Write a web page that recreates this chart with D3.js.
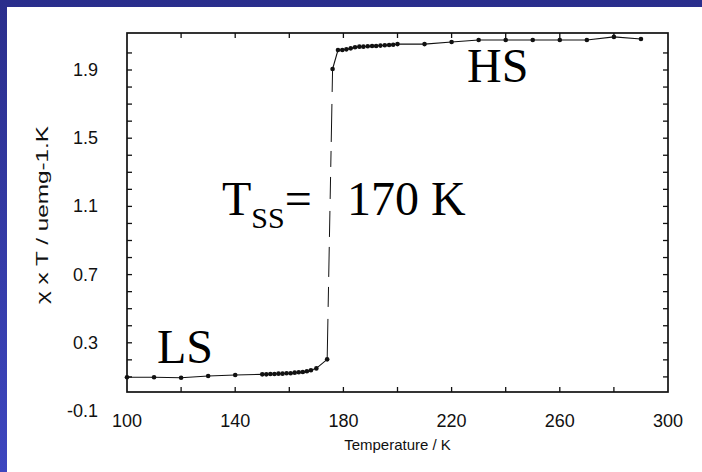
<!DOCTYPE html>
<html>
<head>
<meta charset="utf-8">
<script src="https://cdn.jsdelivr.net/npm/d3@7"></script>
<style>
  html, body { margin: 0; padding: 0; background: #fff; }
  svg { display: block; }
</style>
</head>
<body>
<div id="chart"></div>
<script>
// Low-spin branch: temperature (K) and χT
const lsTemp  = [100, 110, 120, 130, 140, 150, 151.5, 153, 154.5, 156, 157.5, 159, 160.5, 162, 163.5, 165, 166.5, 168, 170, 174];
const lsValue = [0.098, 0.098, 0.095, 0.105, 0.111, 0.115, 0.115, 0.117, 0.117, 0.119, 0.119, 0.121, 0.121, 0.125, 0.127, 0.129, 0.133, 0.139, 0.150, 0.203];

// High-spin branch: temperature (K) and χT
const hsTemp  = [176, 178, 179.6, 181.1, 182.7, 184.3, 185.9, 187.4, 189, 190.6, 192.1, 193.7, 195.3, 196.9, 198.4, 200, 210, 220, 230, 240, 250, 260, 270, 280, 290];
const hsValue = [1.906, 2.017, 2.017, 2.021, 2.027, 2.033, 2.037, 2.037, 2.039, 2.041, 2.041, 2.043, 2.045, 2.047, 2.048, 2.052, 2.052, 2.064, 2.076, 2.076, 2.076, 2.076, 2.076, 2.094, 2.082];

// Axis labels
const xTickLabels = [100, 140, 180, 220, 260, 300];
const yTickLabels = [1.9, 1.5, 1.1, 0.7, 0.3, -0.1];
const xMinorTicks = d3.range(120, 300, 20);
const yMinorTicks = d3.range(0.1, 2.1, 0.1);

const W = 702, H = 472;
const frame = { left: 127, right: 668, top: 33, bottom: 392 };

const svg = d3.select("#chart").append("svg")
  .attr("width", W).attr("height", H);

// Blue slide background with white panel
const defs = svg.append("defs");
const grad = defs.append("linearGradient").attr("id", "bg")
  .attr("x1", 0).attr("y1", 0).attr("x2", 0).attr("y2", 1);
grad.append("stop").attr("offset", "0%").attr("stop-color", "#2a2e8c");
grad.append("stop").attr("offset", "100%").attr("stop-color", "#3d46bf");
svg.append("rect").attr("width", W).attr("height", H).attr("fill", "url(#bg)");
svg.append("rect").attr("x", 7).attr("y", 7).attr("width", W - 7).attr("height", H - 7).attr("fill", "#fff");

const x = d3.scaleLinear().domain([100, 300]).range([frame.left, frame.right]);
// tick labels sit at -0.1 (y=411) and 1.9 (y=70)
const y = d3.scaleLinear().domain([-0.1, 1.9]).range([411, 70]);

// Frame
svg.append("rect")
  .attr("x", frame.left).attr("y", frame.top)
  .attr("width", frame.right - frame.left).attr("height", frame.bottom - frame.top)
  .attr("fill", "none").attr("stroke", "#111").attr("stroke-width", 1.7);

// Inward ticks on all four sides
const tickG = svg.append("g").attr("stroke", "#111").attr("stroke-width", 1.3);
xMinorTicks.forEach(t => {
  tickG.append("line").attr("x1", x(t)).attr("x2", x(t)).attr("y1", frame.bottom).attr("y2", frame.bottom - 5);
  tickG.append("line").attr("x1", x(t)).attr("x2", x(t)).attr("y1", frame.top).attr("y2", frame.top + 5);
});
yMinorTicks.forEach(v => {
  const py = y(v);
  if (py <= frame.top + 2 || py >= frame.bottom - 2) return;
  tickG.append("line").attr("x1", frame.left).attr("x2", frame.left + 5).attr("y1", py).attr("y2", py);
  tickG.append("line").attr("x1", frame.right).attr("x2", frame.right - 5).attr("y1", py).attr("y2", py);
});

// Tick labels
const labelFont = "'Liberation Sans', Arial, Helvetica, sans-serif";
svg.append("g").selectAll("text").data(xTickLabels).join("text")
  .attr("x", d => x(d)).attr("y", 427)
  .attr("text-anchor", "middle")
  .attr("font-family", labelFont).attr("font-size", 18).attr("fill", "#111")
  .text(d => d);

svg.append("g").selectAll("text").data(yTickLabels).join("text")
  .attr("x", 98).attr("y", d => y(d) + 6)
  .attr("text-anchor", "end")
  .attr("font-family", labelFont).attr("font-size", 18).attr("fill", "#111")
  .text(d => d.toFixed(1));

// Axis titles
svg.append("text")
  .attr("x", (frame.left + frame.right) / 2).attr("y", 450)
  .attr("text-anchor", "middle")
  .attr("font-family", labelFont).attr("font-size", 15).attr("fill", "#111")
  .text("Temperature / K");

svg.append("text")
  .attr("transform", "translate(48,215) rotate(-90)")
  .attr("text-anchor", "middle")
  .attr("font-family", labelFont).attr("font-size", 16).attr("fill", "#111")
  .attr("textLength", 178).attr("lengthAdjust", "spacingAndGlyphs")
  .text("χ x T / uemg-1.K");

// Data lines
const line = d3.line().x(d => x(d[0])).y(d => y(d[1]));
const lsPts = lsTemp.map((t, i) => [t, lsValue[i]]);
const hsPts = hsTemp.map((t, i) => [t, hsValue[i]]);

svg.append("path").datum(lsPts).attr("d", line)
  .attr("fill", "none").attr("stroke", "#111").attr("stroke-width", 1.1);
svg.append("path").datum(hsPts).attr("d", line)
  .attr("fill", "none").attr("stroke", "#111").attr("stroke-width", 1.1);
// Spin transition jump, drawn from the HS side downward
svg.append("path").datum([hsPts[0], lsPts[lsPts.length - 1]]).attr("d", line)
  .attr("fill", "none").attr("stroke", "#111").attr("stroke-width", 1)
  .attr("stroke-dasharray", "23,12,38,9,16,10,22,12,26,10,30,10,20,12,40");

svg.append("g").selectAll("circle").data(lsPts.concat(hsPts)).join("circle")
  .attr("cx", d => x(d[0])).attr("cy", d => y(d[1])).attr("r", 2.3)
  .attr("fill", "#111");

// Annotations
const serif = "'Liberation Serif', 'Times New Roman', Times, serif";
svg.append("text").attr("x", 467).attr("y", 82)
  .attr("font-family", serif).attr("font-size", 48).attr("fill", "#000").text("HS");
svg.append("text").attr("x", 157).attr("y", 363)
  .attr("font-family", serif).attr("font-size", 48).attr("fill", "#000").text("LS");

const tss = svg.append("text").attr("x", 222).attr("y", 215)
  .attr("font-family", serif).attr("font-size", 48).attr("fill", "#000");
tss.append("tspan").text("T");
tss.append("tspan").attr("font-size", 30).attr("dy", 13).text("SS");
tss.append("tspan").attr("dy", -13).text("=");
svg.append("text").attr("x", 347).attr("y", 215)
  .attr("font-family", serif).attr("font-size", 48).attr("fill", "#000").text("170 K");
</script>
</body>
</html>
